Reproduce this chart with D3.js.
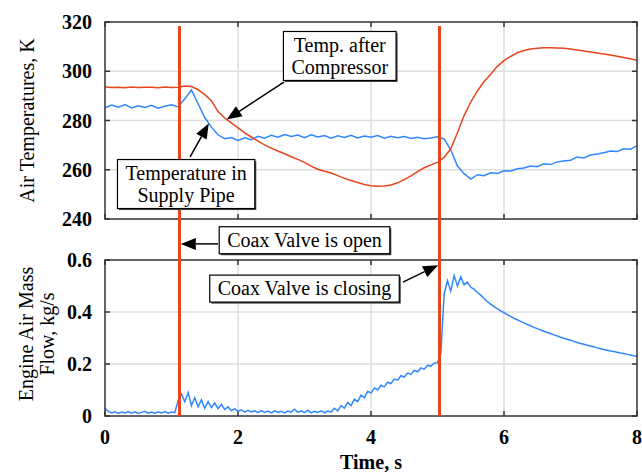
<!DOCTYPE html>
<html>
<head>
<meta charset="utf-8">
<script src="https://cdn.jsdelivr.net/npm/d3@7"></script>
<style>
  html, body { margin: 0; padding: 0; background: #fff; }
  svg { display: block; font-family: 'Liberation Serif', 'Times New Roman', serif; }
</style>
</head>
<body>
<div id="chart"></div>
<script>
// sample spacing of the traces, s
const tempStep = 0.1
const flowStep = 0.05

// Temp. after compressor, K (every 0.1 s, 0..8 s)
const tempCompressor = [
  293.6, 293.4, 293.5, 293.3, 293.6, 293.4, 293.5, 293.5, 293.3, 293.6,
  293.4, 293.5, 294.0, 293.8, 292.5, 290.5, 288.0, 283.6, 281.0, 279.0,
  277.0, 275.0, 273.3, 271.6, 270.1, 268.8, 267.6, 266.5, 265.3, 264.2,
  263.0, 261.5, 260.2, 259.4, 258.7, 257.6, 256.5, 255.6, 254.8, 254.0,
  253.5, 253.3, 253.4, 253.8, 254.7, 256.0, 257.5, 259.2, 260.8, 262.0,
  263.0, 265.0, 268.5, 275.0, 282.0, 287.5, 292.0, 295.8, 298.8, 302.0,
  304.3, 306.0, 307.5, 308.4, 309.0, 309.3, 309.5, 309.5, 309.4, 309.3,
  309.0, 308.6, 308.2, 307.8, 307.4, 307.0, 306.6, 306.1, 305.6, 305.1,
  304.5
]

// Temperature in supply pipe, K (every 0.1 s)
const tempSupply = [
  285.2, 286.3, 285.4, 286.5, 285.1, 286.0, 285.3, 286.2, 285.0, 285.8,
  286.4, 285.5, 288.8, 292.4, 286.8, 281.2, 277.3, 274.2, 272.6, 273.1,
  271.9, 273.0, 272.2, 273.6, 272.8, 274.0, 273.2, 274.3, 273.5, 274.1,
  273.0, 274.2, 273.3, 273.9, 272.8, 273.8, 273.1, 274.0, 272.9, 273.7,
  273.2, 273.9, 272.8, 273.6, 273.0, 273.5, 272.7, 273.2, 272.6, 272.9,
  273.4, 272.5, 268.0, 261.5, 258.4, 256.2, 258.0, 257.6, 258.8, 258.5,
  259.6, 259.5, 260.4, 260.7, 261.5, 261.2, 262.4, 262.1, 263.2, 263.6,
  263.9, 265.2, 264.8, 266.0, 266.4, 266.9, 267.6, 267.4, 268.5, 268.3,
  269.8
]

// Engine air mass flow, kg/s (every 0.05 s)
const massFlow = [
  0.030, 0.018, 0.012, 0.016, 0.010, 0.015, 0.012, 0.017, 0.011, 0.016,
  0.010, 0.014, 0.018, 0.011, 0.015, 0.010, 0.016, 0.012, 0.017, 0.011,
  0.015, 0.013, 0.060, 0.085, 0.055, 0.090, 0.040, 0.070, 0.035, 0.062,
  0.030, 0.055, 0.032, 0.050, 0.028, 0.045, 0.025, 0.035, 0.020, 0.028,
  0.018, 0.024, 0.015, 0.022, 0.016, 0.020, 0.013, 0.021, 0.014, 0.019,
  0.012, 0.020, 0.014, 0.018, 0.012, 0.019, 0.015, 0.026, 0.014, 0.020,
  0.013, 0.022, 0.012, 0.018, 0.014, 0.020, 0.012, 0.019, 0.015, 0.030,
  0.020, 0.040, 0.030, 0.052, 0.040, 0.065, 0.055, 0.080, 0.070, 0.095,
  0.088, 0.108, 0.100, 0.118, 0.112, 0.130, 0.125, 0.142, 0.138, 0.155,
  0.150, 0.165, 0.160, 0.175, 0.170, 0.185, 0.180, 0.195, 0.192, 0.203,
  0.205, 0.240, 0.470, 0.520, 0.480, 0.540, 0.500, 0.535, 0.505, 0.515,
  0.495, 0.488, 0.475, 0.465, 0.452, 0.440, 0.430, 0.421, 0.412, 0.404,
  0.397, 0.390, 0.383, 0.376, 0.370, 0.364, 0.358, 0.352, 0.347, 0.341,
  0.336, 0.331, 0.326, 0.321, 0.317, 0.312, 0.308, 0.303, 0.299, 0.295,
  0.291, 0.287, 0.283, 0.279, 0.276, 0.272, 0.269, 0.266, 0.262, 0.259,
  0.256, 0.253, 0.250, 0.248, 0.245, 0.242, 0.240, 0.237, 0.235, 0.232,
  0.230
]

// coax valve events, s
const valveTimes = [1.12, 5.03]

const timeTicks = [0, 2, 4, 6, 8]
const tempTicks = [240, 260, 280, 300, 320]
const flowTicks = [0, 0.2, 0.4, 0.6]

// callouts: box centre and arrow tail/tip in data units of their panel
const notes = [
  { lines: ['Temp. after', 'Compressor'], panel: 'temp', t: 3.53, v: 306.2, tailT: 2.69, tailV: 295.6, tipT: 1.83, tipV: 280.4 },
  { lines: ['Temperature in', 'Supply Pipe'], panel: 'temp', t: 1.22, v: 254.2, tailT: 1.28, tailV: 265.2, tipT: 1.56, tipV: 278.8 },
  { lines: ['Coax Valve is open'], panel: 'flow', t: 3.0, v: 0.676, tailT: 1.70, tailV: 0.662, tipT: 1.14, tipV: 0.662 },
  { lines: ['Coax Valve is closing'], panel: 'flow', t: 3.0, v: 0.49, tailT: 4.48, tailV: 0.515, tipT: 5.01, tipV: 0.58 }
]

const width = 642
const height = 472
const red = '#e8451c'
const blue = '#2f88ff'

const svg = d3.select('#chart')
  .append('svg')
  .attr('width', width)
  .attr('height', height)

const x = d3.scaleLinear().domain([0, 8]).range([105, 637])
const yTemp = d3.scaleLinear().domain([240, 320]).range([219, 22])
const yFlow = d3.scaleLinear().domain([0, 0.6]).range([416, 260])
const scales = { temp: yTemp, flow: yFlow }

function panel(y, ticks, fmt) {
  const [y0, y1] = y.range()
  const g = svg.append('g')

  // grid
  g.selectAll('line.gx')
    .data(timeTicks.slice(1, -1))
    .join('line')
    .attr('x1', d => x(d)).attr('x2', d => x(d))
    .attr('y1', y1).attr('y2', y0)
    .attr('stroke', '#dedede').attr('stroke-width', 1.5)
  g.selectAll('line.gy')
    .data(ticks.slice(1, -1))
    .join('line')
    .attr('x1', x(0)).attr('x2', x(8))
    .attr('y1', d => y(d)).attr('y2', d => y(d))
    .attr('stroke', '#dedede').attr('stroke-width', 1.5)

  // inward ticks on all four sides
  const tk = 5
  g.selectAll('line.ty')
    .data(ticks)
    .join('line')
    .attr('x1', x(8) - tk).attr('x2', x(8))
    .attr('y1', d => y(d)).attr('y2', d => y(d))
    .attr('stroke', '#333').attr('stroke-width', 1.5)
  g.selectAll('line.tyl')
    .data(ticks)
    .join('line')
    .attr('x1', x(0)).attr('x2', x(0) + tk)
    .attr('y1', d => y(d)).attr('y2', d => y(d))
    .attr('stroke', '#333').attr('stroke-width', 1.5)
  g.selectAll('line.tx')
    .data(timeTicks)
    .join('line')
    .attr('x1', d => x(d)).attr('x2', d => x(d))
    .attr('y1', y1).attr('y2', y1 + tk)
    .attr('stroke', '#333').attr('stroke-width', 1.5)
  g.selectAll('line.txb')
    .data(timeTicks)
    .join('line')
    .attr('x1', d => x(d)).attr('x2', d => x(d))
    .attr('y1', y0 - tk).attr('y2', y0)
    .attr('stroke', '#333').attr('stroke-width', 1.5)

  // tick labels
  g.selectAll('text.yl')
    .data(ticks)
    .join('text')
    .attr('x', x(0) - 13)
    .attr('y', d => y(d))
    .attr('dy', '0.35em')
    .attr('text-anchor', 'end')
    .attr('font-size', 20)
    .attr('font-weight', 'bold')
    .text(fmt)

  return g
}

const gTemp = panel(yTemp, tempTicks, d => d)
const gFlow = panel(yFlow, flowTicks, d => d === 0 ? '0' : d3.format('.1f')(d))

// x tick labels under lower panel
svg.append('g')
  .selectAll('text')
  .data(timeTicks)
  .join('text')
  .attr('x', d => x(d))
  .attr('y', 444)
  .attr('text-anchor', 'middle')
  .attr('font-size', 20)
  .attr('font-weight', 'bold')
  .text(d => d)

// traces
const tempLine = arr => d3.line()
  .x((d, i) => x(i * tempStep))
  .y(d => yTemp(d))(arr)

gTemp.append('path')
  .attr('d', tempLine(tempSupply))
  .attr('fill', 'none').attr('stroke', blue).attr('stroke-width', 1.5)
gTemp.append('path')
  .attr('d', tempLine(tempCompressor))
  .attr('fill', 'none').attr('stroke', red).attr('stroke-width', 1.5)

gFlow.append('path')
  .attr('d', d3.line().x((d, i) => x(i * flowStep)).y(d => yFlow(d))(massFlow))
  .attr('fill', 'none').attr('stroke', blue).attr('stroke-width', 1.5)

// frames
;[yTemp, yFlow].forEach(y => {
  const [y0, y1] = y.range()
  svg.append('rect')
    .attr('x', x(0)).attr('y', y1)
    .attr('width', x(8) - x(0)).attr('height', y0 - y1)
    .attr('fill', 'none').attr('stroke', '#333').attr('stroke-width', 1.5)
})

// valve markers spanning both panels
svg.selectAll('line.valve')
  .data(valveTimes)
  .join('line')
  .attr('x1', d => x(d)).attr('x2', d => x(d))
  .attr('y1', yTemp(318.4)).attr('y2', yFlow(0))
  .attr('stroke', red).attr('stroke-width', 3)

// axis titles
svg.append('text')
  .attr('transform', `translate(34,${(yTemp.range()[0] + yTemp.range()[1]) / 2}) rotate(-90)`)
  .attr('text-anchor', 'middle')
  .attr('font-size', 20)
  .text('Air Temperatures, K')

const flowTitle = svg.append('text')
  .attr('transform', `translate(33,${(yFlow.range()[0] + yFlow.range()[1]) / 2 - 4}) rotate(-90)`)
  .attr('text-anchor', 'middle')
  .attr('font-size', 20)
flowTitle.append('tspan').attr('x', 0).attr('y', 0).text('Engine Air Mass')
flowTitle.append('tspan').attr('x', 0).attr('y', 21).text('Flow, kg/s')

svg.append('text')
  .attr('x', (x(0) + x(8)) / 2)
  .attr('y', 469)
  .attr('text-anchor', 'middle')
  .attr('font-size', 20)
  .attr('font-weight', 'bold')
  .text('Time, s')

// callouts
const gNotes = svg.append('g')
const lineH = 22
notes.forEach(n => {
  const y = scales[n.panel]
  const cx = x(n.t)
  const cy = y(n.v)

  // arrow shaft + head
  const x1 = x(n.tailT), y1 = y(n.tailV)
  const x2 = x(n.tipT), y2 = y(n.tipV)
  const ang = Math.atan2(y2 - y1, x2 - x1)
  const hl = 15, hw = 6
  const bx = x2 - hl * Math.cos(ang), by = y2 - hl * Math.sin(ang)
  gNotes.append('line')
    .attr('x1', x1).attr('y1', y1).attr('x2', bx).attr('y2', by)
    .attr('stroke', '#000').attr('stroke-width', 1.5)
  gNotes.append('path')
    .attr('d', `M${x2},${y2}L${bx + hw * Math.sin(ang)},${by - hw * Math.cos(ang)}L${bx - hw * Math.sin(ang)},${by + hw * Math.cos(ang)}Z`)
    .attr('fill', '#000')

  const g = gNotes.append('g')
  const shadow = g.append('rect').attr('fill', '#444')
  const box = g.append('rect').attr('fill', '#fff').attr('stroke', '#000').attr('stroke-width', 1.2)
  const text = g.append('text')
    .attr('text-anchor', 'middle')
    .attr('font-size', 20)
  n.lines.forEach((s, i) => {
    text.append('tspan')
      .attr('x', cx)
      .attr('y', cy + (i - (n.lines.length - 1) / 2) * lineH)
      .attr('dy', '0.33em')
      .text(s)
  })
  const w = d3.max(text.selectAll('tspan').nodes(), t => t.getComputedTextLength()) + 16
  const h = n.lines.length * lineH + 5
  box.attr('x', cx - w / 2).attr('y', cy - h / 2).attr('width', w).attr('height', h)
  shadow.attr('x', cx - w / 2 + 1.5).attr('y', cy - h / 2 + 1.5).attr('width', w).attr('height', h)
})
</script>
</body>
</html>
